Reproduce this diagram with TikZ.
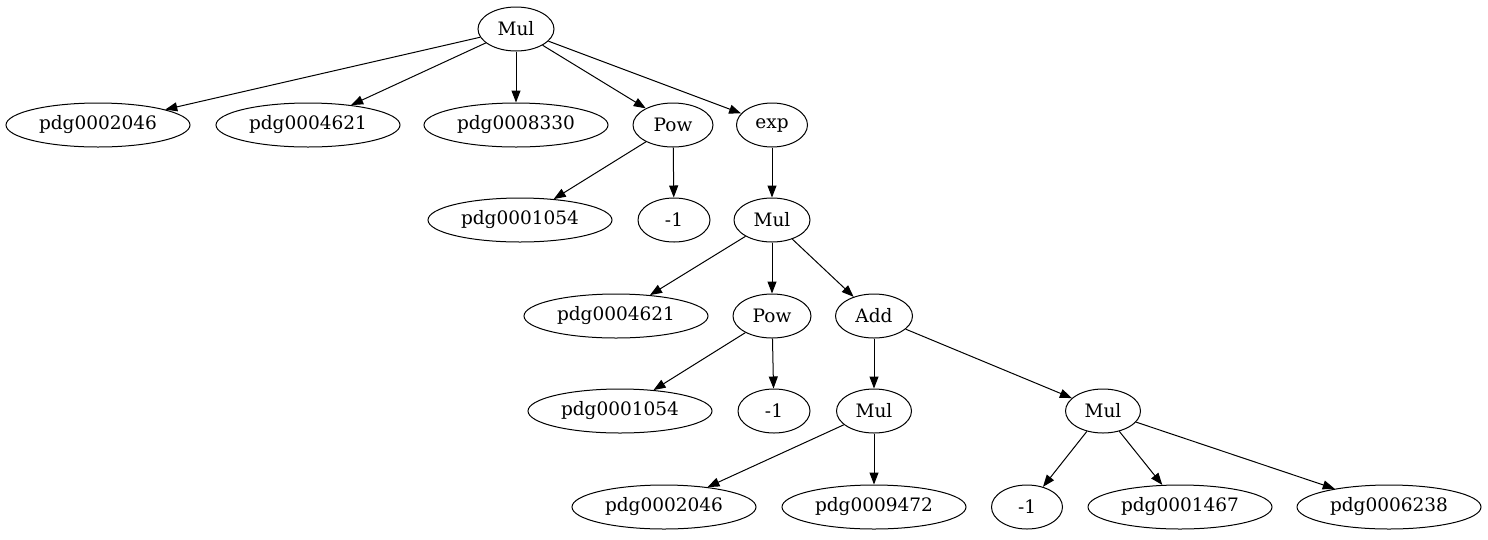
\documentclass[tikz,border=0pt]{standalone}
\usepackage{fontspec}
\setmainfont{DejaVu Serif}
\usetikzlibrary{shapes.geometric,arrows.meta}
\begin{document}
\begin{tikzpicture}[x=1pt,y=-1pt,
  nd/.style={draw,ellipse,line width=1pt,inner sep=0pt,minimum height=44pt,font=\fontsize{18.5}{20}\selectfont},
  lng/.style={nd,minimum width=184pt},
  sht/.style={nd,minimum width=74pt},
  edge/.style={line width=1pt,-{Triangle[length=12pt,width=9pt]}}]
\useasboundingbox (0,0) rectangle (1488,539);
% row 1
\node[sht,minimum width=76pt] (m1) at (516,29) {Mul};
% row 2
\node[lng] (a1) at (98,125) {pdg0002046};
\node[lng] (a2) at (308,125) {pdg0004621};
\node[lng] (a3) at (516,125) {pdg0008330};
\node[sht,minimum width=80pt] (p1) at (673,125) {Pow};
\node[sht,minimum width=71pt] (e1) at (772,125) {exp};
% row 3
\node[lng] (b1) at (520,220) {pdg0001054};
\node[sht,minimum width=72pt] (n1) at (674,220) {-1};
\node[sht,minimum width=76pt] (m2) at (772,220) {Mul};
% row 4
\node[lng] (c1) at (616,316) {pdg0004621};
\node[sht,minimum width=78pt] (p2) at (772,316) {Pow};
\node[sht,minimum width=77pt] (ad) at (874,316) {Add};
% row 5
\node[lng] (d1) at (620,411) {pdg0001054};
\node[sht,minimum width=72pt] (n2) at (774,411) {-1};
\node[sht,minimum width=75pt] (m3) at (874,411) {Mul};
\node[sht,minimum width=75pt] (m4) at (1103,411) {Mul};
% row 6
\node[lng] (f1) at (664,507) {pdg0002046};
\node[lng] (f2) at (874,507) {pdg0009472};
\node[sht,minimum width=71pt] (n3) at (1027,507) {-1};
\node[lng] (f3) at (1180,507) {pdg0001467};
\node[lng] (f4) at (1389,507) {pdg0006238};
% edges
\draw[edge] (m1) -- (a1);
\draw[edge] (m1) -- (a2);
\draw[edge] (m1) -- (a3);
\draw[edge] (m1) -- (p1);
\draw[edge] (m1) -- (e1);
\draw[edge] (p1) -- (b1);
\draw[edge] (p1) -- (n1);
\draw[edge] (e1) -- (m2);
\draw[edge] (m2) -- (c1);
\draw[edge] (m2) -- (p2);
\draw[edge] (m2) -- (ad);
\draw[edge] (p2) -- (d1);
\draw[edge] (p2) -- (n2);
\draw[edge] (ad) -- (m3);
\draw[edge] (ad) -- (m4);
\draw[edge] (m3) -- (f1);
\draw[edge] (m3) -- (f2);
\draw[edge] (m4) -- (n3);
\draw[edge] (m4) -- (f3);
\draw[edge] (m4) -- (f4);
\end{tikzpicture}
\end{document}
